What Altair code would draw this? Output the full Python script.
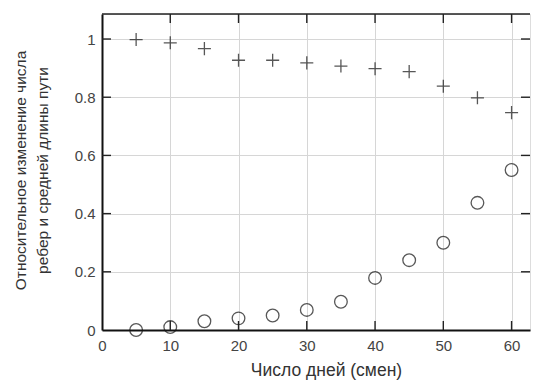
import altair as alt
import pandas as pd

days = [5, 10, 15, 20, 25, 30, 35, 40, 45, 50, 55, 60]
edges_rel = [0.998, 0.987, 0.967, 0.927, 0.927, 0.918, 0.907, 0.898, 0.888, 0.838, 0.798, 0.747]
path_rel = [0.0, 0.01, 0.03, 0.04, 0.05, 0.069, 0.097, 0.179, 0.24, 0.30, 0.437, 0.55]

x_tick_values = [0, 10, 20, 30, 40, 50, 60]
y_tick_values = [0, 0.2, 0.4, 0.6, 0.8, 1.0]
x_inner_ticks = [10, 20, 30, 40, 50, 60]
y_inner_ticks = [0.2, 0.4, 0.6, 0.8, 1.0]

X_MAX = 62.7
Y_MAX = 1.086
W, H = 428, 316
FONT = "Liberation Sans"
TL = 9  # inward tick length in pixels
TLX = TL * X_MAX / W  # tick length in x data units
TLY = TL * Y_MAX / H  # tick length in y data units

df = pd.DataFrame({"day": days, "edges": edges_rel, "path": path_rel})

# vertical tick segments (bottom and top edges)
xt = pd.DataFrame({
    "xv": x_inner_ticks + x_inner_ticks,
    "ya": [0.0] * len(x_inner_ticks) + [Y_MAX] * len(x_inner_ticks),
    "yb": [TLY] * len(x_inner_ticks) + [Y_MAX - TLY] * len(x_inner_ticks),
})
# horizontal tick segments (left and right edges) plus the top frame line
yt = pd.DataFrame({
    "yv": y_inner_ticks + y_inner_ticks + [Y_MAX],
    "xa": [0.0] * len(y_inner_ticks) + [X_MAX] * len(y_inner_ticks) + [0.0],
    "xb": [TLX] * len(y_inner_ticks) + [X_MAX - TLX] * len(y_inner_ticks) + [X_MAX],
})

xscale = alt.Scale(domain=[0, X_MAX], nice=False, zero=False)
yscale = alt.Scale(domain=[0, Y_MAX], nice=False, zero=False)

xaxis = alt.Axis(
    values=x_tick_values, format="d", grid=True, gridColor="#d6d6d6", gridWidth=1,
    ticks=False, domain=True, domainColor="#111", domainWidth=2,
    labelFont=FONT, labelFontSize=15, labelColor="#444", labelPadding=8, labelFlush=False,
    title="Число дней (смен)", titleFont=FONT, titleFontSize=17.5, titleFontWeight="normal",
    titleColor="#333", titleX=224, titleY=40, titleBaseline="middle", titleAlign="center",
)
yaxis = alt.Axis(
    values=y_tick_values, format="~g", grid=True, gridColor="#d6d6d6", gridWidth=1,
    ticks=False, domain=True, domainColor="#111", domainWidth=2,
    labelFont=FONT, labelFontSize=15, labelColor="#444", labelPadding=7,
    title=["Относительное изменение числа", "ребер и средней длины пути"],
    titleFont=FONT, titleFontSize=15.5, titleFontWeight="normal", titleColor="#333",
    titleLineHeight=22, titleAngle=270, titleX=-82, titleY=156,
    titleAlign="center", titleBaseline="middle",
)

circles = alt.Chart(df).mark_point(
    shape="circle", filled=False, size=160, stroke="#111", strokeWidth=1.3
).encode(
    x=alt.X("day:Q", scale=xscale, axis=xaxis),
    y=alt.Y("path:Q", scale=yscale, axis=yaxis),
)

pluses = alt.Chart(df).mark_point(
    shape="M-1,0H1M0,-1V1", filled=False, size=170, stroke="#111", strokeWidth=1.3
).encode(
    x=alt.X("day:Q", scale=xscale),
    y=alt.Y("edges:Q", scale=yscale),
)

x_ticks = alt.Chart(xt).mark_rule(color="#222", strokeWidth=1.4).encode(
    x=alt.X("xv:Q", scale=xscale),
    y=alt.Y("ya:Q", scale=yscale),
    y2="yb:Q",
)
y_ticks = alt.Chart(yt).mark_rule(color="#222", strokeWidth=1.4).encode(
    y=alt.Y("yv:Q", scale=yscale),
    x=alt.X("xa:Q", scale=xscale),
    x2="xb:Q",
)

chart = alt.layer(circles, pluses, x_ticks, y_ticks).properties(width=W, height=H)

chart.save("out.html", embed_options={"renderer": "svg", "actions": False})
